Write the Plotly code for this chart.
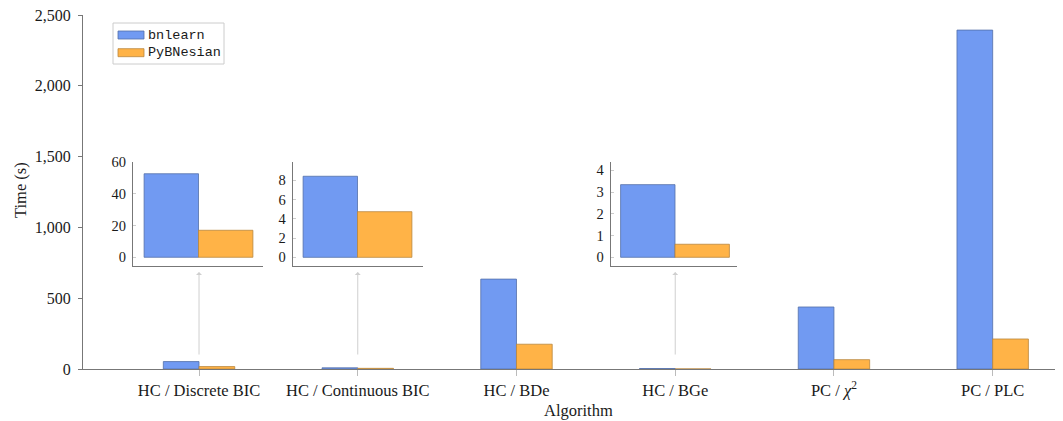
import plotly.graph_objects as go

# ---- data ----
categories = ["HC / Discrete BIC", "HC / Continuous BIC", "HC / BDe", "HC / BGe", "PC / χ²", "PC / PLC"]
tick_labels = ["HC / Discrete BIC", "HC / Continuous BIC", "HC / BDe", "HC / BGe",
               "PC / <i>χ</i><sup>2</sup>", "PC / PLC"]
bnlearn = [52.6, 8.42, 635, 3.34, 438, 2394]
pybnesian = [17.0, 4.74, 175, 0.60, 66, 212]
series_names = ["bnlearn", "PyBNesian"]
y_ticks = [0, 500, 1000, 1500, 2000, 2500]
inset_indices = [0, 1, 3]
inset_ticks = [[0, 20, 40, 60], [0, 2, 4, 6, 8], [0, 1, 2, 3, 4]]

# ---- style ----
BLUE, BLUE_LINE = "#719AF2", "#5470A8"
ORANGE, ORANGE_LINE = "#FFB347", "#B9873D"
AXIS = "#777777"
SERIF = "Liberation Serif"
MONO = "Liberation Mono"
TXT = "#1a1a1a"

OFF = 8  # browser default body margin
W, H = 1063 - OFF, 421 - OFF
L, R, T, B = 83 - OFF, 0, 15 - OFF, 52
PW, PH = W - L - R, H - T - B


def px_x(p):  # reference-pixel -> paper x
    return (p - OFF - L) / PW


def px_y(p):  # reference-pixel -> paper y
    return (H - B - (p - OFF)) / PH


fig = go.Figure()
xs = list(range(len(categories)))
bw = 0.225
fig.add_trace(go.Bar(x=xs, y=bnlearn, name=series_names[0], offset=-bw, width=bw,
                     marker=dict(color=BLUE, line=dict(color=BLUE_LINE, width=0.8)),
                     showlegend=False, xaxis="x", yaxis="y"))
fig.add_trace(go.Bar(x=xs, y=pybnesian, name=series_names[1], offset=0, width=bw,
                     marker=dict(color=ORANGE, line=dict(color=ORANGE_LINE, width=0.8)),
                     showlegend=False, xaxis="x", yaxis="y"))

# insets geometry (reference pixels): x-axis left/right, bar center
inset_px = [(133, 263, 198.5), (292.7, 422.7, 357.5), (610.7, 736.7, 675)]
inset_yr = [[-5.5, 60.01], [-0.9, 9.9], [-0.4, 4.38]]
inset_bw = 54.4

layout_extra = {}
for k, idx in enumerate(inset_indices):
    n = k + 2
    xa, ya = f"x{n}", f"y{n}"
    fig.add_trace(go.Bar(x=[0], y=[bnlearn[idx]], offset=-1, width=1,
                         marker=dict(color=BLUE, line=dict(color=BLUE_LINE, width=0.8)),
                         showlegend=False, xaxis=xa, yaxis=ya))
    fig.add_trace(go.Bar(x=[0], y=[pybnesian[idx]], offset=0, width=1,
                         marker=dict(color=ORANGE, line=dict(color=ORANGE_LINE, width=0.8)),
                         showlegend=False, xaxis=xa, yaxis=ya))
    x0, x1, c = inset_px[k]
    layout_extra[f"xaxis{n}"] = dict(
        domain=[px_x(x0), px_x(x1)], anchor=ya,
        range=[-(c - x0) / inset_bw, (x1 - c) / inset_bw],
        showline=True, linecolor=AXIS, linewidth=1, showticklabels=False,
        ticks="", showgrid=False, zeroline=False, fixedrange=True)
    layout_extra[f"yaxis{n}"] = dict(
        domain=[px_y(266), px_y(162)], anchor=xa, range=inset_yr[k],
        tickvals=inset_ticks[k], showline=True, linecolor=AXIS, linewidth=1,
        ticks="inside", ticklen=3, tickcolor="#cccccc", showgrid=False,
        zeroline=False, tickfont=dict(family=SERIF, size=14.5, color=TXT),
        ticklabelstandoff=3)
    # arrow from bar up to inset
    head_val = (369 - 272) / 354 * 2500
    fig.add_annotation(x=idx, y=head_val, xref="x", yref="y", ax=0, ay=84,
                       showarrow=True, arrowhead=1, arrowsize=1, arrowwidth=1,
                       arrowcolor="#cfcfcf", text="")

fig.update_layout(
    width=W, height=H, autosize=False,
    margin=dict(l=L, r=R, t=T, b=B, pad=0),
    paper_bgcolor="white", plot_bgcolor="white",
    barmode="overlay",
    font=dict(family=SERIF, size=15.5, color=TXT),
    xaxis=dict(domain=[0, 1], range=[-0.731, 5.443], tickvals=xs, ticktext=tick_labels,
               ticks="outside", ticklen=6, tickcolor="#bbbbbb", showline=True,
               linecolor=AXIS, linewidth=1, showgrid=False, zeroline=False,
               tickfont=dict(family=SERIF, size=16.5, color=TXT)),
    yaxis=dict(domain=[0, 1], range=[0, 2500.5], tickvals=y_ticks, tickformat=",d",
               ticks="outside", ticklen=4, tickcolor=AXIS, showline=True,
               linecolor=AXIS, linewidth=1, showgrid=False, zeroline=False,
               tickfont=dict(family=SERIF, size=16, color=TXT),
               ticklabelstandoff=4, ticklabeloverflow="allow"),
    **layout_extra,
)

# axis titles
fig.add_annotation(text="Algorithm", x=px_x(578), y=px_y(411), xref="paper", yref="paper",
                   showarrow=False, font=dict(family=SERIF, size=16.5, color=TXT),
                   xanchor="center", yanchor="middle")
fig.add_annotation(text="Time (s)", x=px_x(20), y=px_y(190), xref="paper", yref="paper",
                   showarrow=False, textangle=-90,
                   font=dict(family=SERIF, size=16.5, color=TXT),
                   xanchor="center", yanchor="middle")

# legend (manual, to match wide swatches)
fig.add_shape(type="rect", xref="paper", yref="paper",
              x0=px_x(113), x1=px_x(224), y0=px_y(64), y1=px_y(23),
              line=dict(color="#cccccc", width=1), fillcolor="white", layer="above")
swatch_rows = [(31, 39), (48.7, 56.7)]
for (y0, y1), name, col, lc in zip(swatch_rows, series_names, [BLUE, ORANGE], [BLUE_LINE, ORANGE_LINE]):
    fig.add_shape(type="rect", xref="paper", yref="paper",
                  x0=px_x(118), x1=px_x(144), y0=px_y(y1), y1=px_y(y0),
                  line=dict(color=lc, width=0.8), fillcolor=col, layer="above")
    fig.add_annotation(text=name, x=px_x(146), y=px_y((y0 + y1) / 2), xref="paper", yref="paper",
                       showarrow=False, xanchor="left", yanchor="middle",
                       font=dict(family=MONO, size=13.5, color=TXT))

fig.write_html("out.html")
